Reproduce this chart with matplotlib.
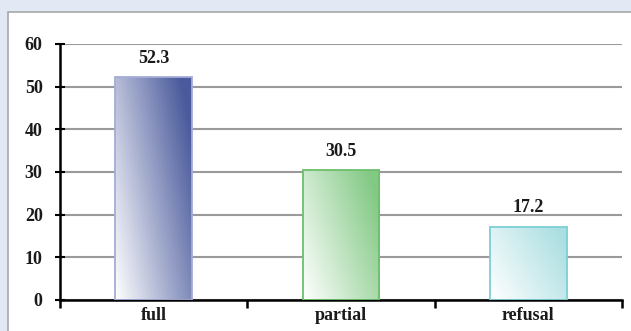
import numpy as np
import matplotlib
matplotlib.use("Agg")
import matplotlib.pyplot as plt
from matplotlib.patches import Rectangle
from matplotlib.colors import LinearSegmentedColormap

categories = ["full", "partial", "refusal"]
values = [52.3, 30.5, 17.2]
yticks = [0, 10, 20, 30, 40, 50, 60]

dark_colors = ["#4a5a9c", "#82c984", "#acdfe2"]
edge_colors = ["#a4acd8", "#6cbf6c", "#7ccfd6"]

plt.rcParams['font.family'] = ['Liberation Serif', 'DejaVu Serif']

fig = plt.figure(figsize=(6.31, 3.31), dpi=100)
fig.patch.set_facecolor("#e3e9f4")
panel = Rectangle((8/631, -0.05), 1.1, 1 - 12/331 + 0.05, transform=fig.transFigure,
                  facecolor="white", edgecolor="#a8a8a8", linewidth=1.2, zorder=-10)
fig.patches.append(panel)

ax = fig.add_axes([60/631, 1 - 300/331, (622 - 60)/631, (300 - 44)/331])
ax.set_zorder(1)
ax.set_facecolor("none")
ax.set_xlim(-0.5, 2.5)
ax.set_ylim(0, 60)

width = 0.41
x = np.arange(len(categories))
bars = ax.bar(x, values, width=width, color="none", edgecolor=edge_colors, linewidth=1.3, zorder=3)

# diagonal gradient: light lower-left to dark upper-right
gy, gx = np.mgrid[0:1:100j, 0:1:100j]
grad = np.clip(gx * 0.7 + gy * 0.4, 0, 1)
for b, dc in zip(bars, dark_colors):
    cmap = LinearSegmentedColormap.from_list("g", ["#ffffff", dc])
    x0, y0 = b.get_x(), b.get_y()
    w, h = b.get_width(), b.get_height()
    im = ax.imshow(grad, cmap=cmap, vmin=0, vmax=1, extent=[x0, x0 + w, y0, y0 + h],
                   origin="lower", aspect="auto", zorder=2, interpolation="bilinear")
    im.set_clip_path(b)

for xi, v in zip(x, values):
    ax.text(xi, v + 2.4, f"{v}", ha="center", va="bottom", fontsize=13, fontweight="bold",
            color="#1a1a1a")

ax.set_yticks(yticks)
ax.set_yticklabels([str(t) for t in yticks], fontsize=13, fontweight="bold", color="#1a1a1a")
ax.yaxis.grid(True, color="#9a9a9a", linewidth=1.5, zorder=1)
ax.set_axisbelow(True)
ax.tick_params(axis="y", direction="inout", length=7, width=1.5, pad=9)

ax.set_xticks(x)
ax.set_xticklabels(categories, fontsize=13, fontweight="bold", color="#1a1a1a")
ax.tick_params(axis="x", which="major", length=0, pad=5)
ax.set_xticks([-0.5, 0.5, 1.5, 2.5], minor=True)
ax.tick_params(axis="x", which="minor", direction="out", length=6, width=1.8)

for s in ["top", "right"]:
    ax.spines[s].set_visible(False)
ax.spines["left"].set_linewidth(1.8)
ax.spines["bottom"].set_linewidth(1.8)

fig.savefig("out.png", dpi=100, facecolor=fig.get_facecolor())
